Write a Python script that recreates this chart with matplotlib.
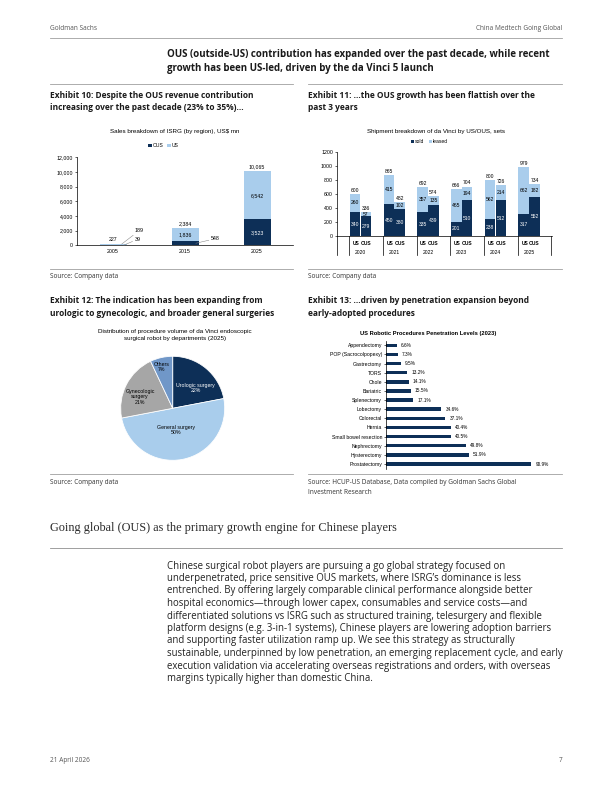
import matplotlib.pyplot as plt
from matplotlib.lines import Line2D
import numpy as np

W, H = 612, 792
NAVY = '#0d2f57'
LIGHT = '#a9cdec'
GREY = '#a6a6a6'
MID = '#7097c8'
CF = 'Liberation Sans'
PF = 'Open Sans'

# exhibit 10 data
years10 = ['2005', '2015', '2025']
ous10 = [39, 548, 3523]
us10 = [189, 1836, 6542]
total10 = [227, 2384, 10065]

# exhibit 11 data
years11 = ['2020', '2021', '2022', '2023', '2024', '2025']
us_sold = [340, 450, 335, 201, 238, 317]
us_leased = [260, 415, 357, 465, 562, 662]
us_total = [600, 865, 692, 666, 800, 979]
ous_sold = [279, 380, 439, 510, 512, 552]
ous_leased = [57, 102, 135, 194, 214, 182]
ous_total = [336, 482, 574, 704, 726, 734]

# exhibit 12 data
pie_names = ['Urologic surgery', 'General surgery', 'Gynecologic\nsurgery', 'Others']
pie_vals = [22, 50, 21, 7]

# exhibit 13 data
procs = ['Appendectomy', 'POP (Sacrocolpopexy)', 'Gastrectomy', 'TORS', 'Chole',
         'Bariatric', 'Splenectomy', 'Lobectomy', 'Colorectal', 'Hernia',
         'Small bowel resection', 'Nephrectomy', 'Hysterectomy', 'Prostatectomy']
pen = [6.6, 7.3, 9.5, 13.2, 14.1, 15.5, 17.1, 34.6, 37.1, 40.4, 40.5, 49.8, 51.9, 90.9]

body = [
    "Chinese surgical robot players are pursuing a go global strategy focused on",
    "underpenetrated, price sensitive OUS markets, where ISRG\u2019s dominance is less",
    "entrenched. By offering largely comparable clinical performance alongside better",
    "hospital economics\u2014through lower capex, consumables and service costs\u2014and",
    "differentiated solutions vs ISRG such as structured training, telesurgery and flexible",
    "platform designs (e.g. 3-in-1 systems), Chinese players are lowering adoption barriers",
    "and supporting faster utilization ramp up. We see this strategy as structurally",
    "sustainable, underpinned by low penetration, an emerging replacement cycle, and early",
    "execution validation via accelerating overseas registrations and orders, with overseas",
    "margins typically higher than domestic China.",
]

fig = plt.figure(figsize=(W / 72, H / 72), dpi=72)


def px_ax(l, t, r, b):
    return fig.add_axes([l / W, 1 - b / H, (r - l) / W, (b - t) / H])


def txt(x, y, s, **kw):
    kw.setdefault('va', 'center')
    kw.setdefault('family', PF)
    fig.text(x / W, 1 - y / H, s, **kw)


def hline(x1, x2, y, c='#9a9a9a', lw=1.0):
    fig.add_artist(Line2D([x1 / W, x2 / W], [1 - y / H] * 2, color=c, lw=lw,
                          transform=fig.transFigure))


TS = 8.4   # exhibit title size
SS = 6.5   # source size
VS = 5.2   # value label size

# page header
txt(50, 28, 'Goldman Sachs', fontsize=6.5, color='#555555')
txt(562, 29, 'China Medtech Going Global', fontsize=6.5, color='#555555', ha='right')
hline(50, 562, 38, lw=0.8)
txt(167, 54, 'OUS (outside-US) contribution has expanded over the past decade, while recent',
    fontsize=9.8, weight='bold', color='#1a1a1a')
txt(167, 69, 'growth has been US-led, driven by the da Vinci 5 launch',
    fontsize=9.8, weight='bold', color='#1a1a1a')
hline(50, 293, 84, lw=0.8)
hline(308, 562, 84, lw=0.8)

# exhibit titles
txt(50, 95, 'Exhibit 10: Despite the OUS revenue contribution', fontsize=TS, weight='bold', color='#1a1a1a')
txt(50, 107, 'increasing over the past decade (23% to 35%)...', fontsize=TS, weight='bold', color='#1a1a1a')
txt(308, 95, 'Exhibit 11: ...the OUS growth has been flattish over the', fontsize=TS, weight='bold', color='#1a1a1a')
txt(308, 107, 'past 3 years', fontsize=TS, weight='bold', color='#1a1a1a')
txt(50, 301, 'Exhibit 12: The indication has been expanding from', fontsize=TS, weight='bold', color='#1a1a1a')
txt(50, 313, 'urologic to gynecologic, and broader general surgeries', fontsize=TS, weight='bold', color='#1a1a1a')
txt(308, 301, 'Exhibit 13: ...driven by penetration expansion beyond', fontsize=TS, weight='bold', color='#1a1a1a')
txt(308, 313, 'early-adopted procedures', fontsize=TS, weight='bold', color='#1a1a1a')

# sources
hline(50, 293, 269, lw=0.8)
hline(308, 562, 269, lw=0.8)
txt(50, 277, 'Source: Company data', fontsize=SS, color='#333333')
txt(308, 277, 'Source: Company data', fontsize=SS, color='#333333')
hline(50, 293, 474, lw=0.8)
hline(308, 562, 474, lw=0.8)
txt(50, 483, 'Source: Company data', fontsize=SS, color='#333333')
txt(308, 483, 'Source: HCUP-US Database, Data compiled by Goldman Sachs Global', fontsize=SS, color='#333333')
txt(308, 492, 'Investment Research', fontsize=SS, color='#333333')

# ---------- exhibit 10 ----------
txt(175, 132, 'Sales breakdown of ISRG (by region), US$ mn', fontsize=6.3, ha='center', family=CF)
ax = px_ax(77, 157.3, 293, 245.3)
x = np.arange(len(years10))
ax.bar(x, ous10, 0.375, color=NAVY, label='OUS')
ax.bar(x, us10, 0.375, bottom=ous10, color=LIGHT, label='US')
ax.set_ylim(0, 12000)
ax.set_xlim(-0.5, 2.5)
ax.set_yticks(range(0, 12001, 2000))
ax.set_yticklabels([f'{v:,}' for v in range(0, 12001, 2000)], family=CF, fontsize=5.2)
ax.set_xticks(x)
ax.set_xticklabels(years10, family=CF, fontsize=5.2)
ax.tick_params(axis='y', length=2, width=0.6, pad=2)
ax.tick_params(axis='x', length=0, pad=4)
for s in ['top', 'right']:
    ax.spines[s].set_visible(False)
for s in ['left', 'bottom']:
    ax.spines[s].set_linewidth(0.7)
for i in range(len(years10)):
    ax.text(x[i], total10[i] + 250, f'{total10[i]:,}', ha='center', va='bottom', fontsize=VS, family=CF)
for i in [2]:
    ax.text(x[i], ous10[i] / 2, f'{ous10[i]:,}', ha='center', va='center', fontsize=VS, family=CF, color='white')
for i in [1, 2]:
    ax.text(x[i], ous10[i] + us10[i] / 2, f'{us10[i]:,}', ha='center', va='center', fontsize=VS, family=CF)
lead = dict(arrowstyle='-', color='#808080', lw=0.5, shrinkA=0, shrinkB=0)
ax.annotate(f'{us10[0]:,}', xy=(0.12, 160), xytext=(0.3, 1990), fontsize=VS, family=CF,
            va='center', arrowprops=lead)
ax.annotate(f'{ous10[0]:,}', xy=(0.15, 20), xytext=(0.3, 820), fontsize=VS, family=CF,
            va='center', arrowprops=lead)
ax.annotate(f'{ous10[1]:,}', xy=(1.15, 280), xytext=(1.36, 900), fontsize=VS, family=CF,
            va='center', arrowprops=lead)
ax.legend(loc='center', bbox_to_anchor=(0.4, 1.13), ncol=2, frameon=False,
          prop={'family': CF, 'size': 5}, handlelength=0.7, handleheight=0.7,
          handletextpad=0.2, columnspacing=0.8)

# ---------- exhibit 11 ----------
txt(436, 132, 'Shipment breakdown of da Vinci by US/OUS, sets', fontsize=6.3, ha='center', family=CF)
ax = px_ax(337, 151.7, 552, 236)
g = np.arange(len(years11))
bw = 0.31
xu, xo = g - 0.16, g + 0.16
ax.bar(xu, us_sold, bw, color=NAVY, label='sold')
ax.bar(xu, us_leased, bw, bottom=us_sold, color=LIGHT, label='leased')
ax.bar(xo, ous_sold, bw, color=NAVY)
ax.bar(xo, ous_leased, bw, bottom=ous_sold, color=LIGHT)
ax.set_ylim(0, 1200)
ax.set_xlim(-0.7, 5.68)
ax.set_yticks(range(0, 1201, 200))
ax.set_yticklabels([str(v) for v in range(0, 1201, 200)], family=CF, fontsize=5.2)
ax.set_xticks([])
ax.tick_params(axis='y', length=2, width=0.6, pad=2)
for s in ['top', 'right']:
    ax.spines[s].set_visible(False)
for s in ['left', 'bottom']:
    ax.spines[s].set_linewidth(0.7)
for xs, sold, leased, tot in [(xu, us_sold, us_leased, us_total), (xo, ous_sold, ous_leased, ous_total)]:
    for i in range(len(g)):
        ax.text(xs[i], sold[i] / 2, str(sold[i]), ha='center', va='center', fontsize=5, family=CF, color='white')
        ax.text(xs[i], sold[i] + leased[i] / 2, str(leased[i]), ha='center', va='center', fontsize=5, family=CF)
        ax.text(xs[i], tot[i] + 15, str(tot[i]), ha='center', va='bottom', fontsize=5, family=CF)
for sx in list(g - 0.34) + [5.66, -0.7]:
    ax.plot([sx, sx], [0, -270], color='black', lw=0.7, clip_on=False)
for i in range(len(g)):
    ax.text(xu[i] + 0.03, -100, 'US', ha='center', va='center', fontsize=5, family=CF, weight='bold')
    ax.text(xo[i] + 0.0, -100, 'OUS', ha='center', va='center', fontsize=5, family=CF, weight='bold')
    ax.text(g[i], -240, years11[i], ha='center', va='center', fontsize=5, family=CF)
ax.legend(loc='center', bbox_to_anchor=(0.43, 1.12), ncol=2, frameon=False,
          prop={'family': CF, 'size': 5}, handlelength=0.7, handleheight=0.7,
          handletextpad=0.2, columnspacing=0.8)

# ---------- exhibit 12 ----------
txt(175, 331, 'Distribution of procedure volume of da Vinci endoscopic', fontsize=6.3, ha='center', family=CF)
txt(175, 338.5, 'surgical robot by departments (2025)', fontsize=6.3, ha='center', family=CF)
ax = px_ax(120.7, 356.3, 224.7, 460.3)
ax.pie(pie_vals, colors=[NAVY, LIGHT, GREY, MID], startangle=90, counterclock=False,
       wedgeprops=dict(edgecolor='white', linewidth=0.8))
ax.set_xlim(-1, 1)
ax.set_ylim(-1, 1)
pie_pos = [(0.44, 0.39), (0.06, -0.42), (-0.63, 0.22), (-0.21, 0.79)]
pie_col = ['white', 'black', 'black', 'black']
for (px, py), nm, v, c in zip(pie_pos, pie_names, pie_vals, pie_col):
    ax.text(px, py, f'{nm}\n{v}%', ha='center', va='center', fontsize=5.2, family=CF,
            color=c, linespacing=1.1)

# ---------- exhibit 13 ----------
txt(428, 334, 'US Robotic Procedures Penetration Levels (2023)', fontsize=5.8, ha='center', family=CF, weight='bold')
ax = px_ax(386, 340.7, 546, 468.6)
yy = np.arange(len(procs))
ax.barh(yy, pen, 0.38, color=NAVY)
ax.set_ylim(len(procs) - 0.5, -0.5)
ax.set_xlim(0, 100)
ax.set_yticks(yy)
ax.set_yticklabels(procs, family=CF, fontsize=5.1)
ax.set_xticks([])
ax.tick_params(axis='y', length=2, width=0.6, pad=2)
for s in ['top', 'right', 'bottom']:
    ax.spines[s].set_visible(False)
ax.spines['left'].set_linewidth(0.7)
for i, v in enumerate(pen):
    ax.text(v + 2.5, i, f'{v:.1f}%', va='center', fontsize=4.8, family=CF)

# ---------- section ----------
txt(50, 528, 'Going global (OUS) as the primary growth engine for Chinese players',
    fontsize=12.2, family='Liberation Serif', color='#2a2a2a')
hline(50, 562, 548, c='#8a8a8a', lw=0.8)
for i, line in enumerate(body):
    txt(167, 566 + 12.5 * i, line, fontsize=9.6, color='#222222')

# footer
txt(50, 761, '21 April 2026', fontsize=6.5, color='#555555')
txt(562, 761, '7', fontsize=6.5, color='#555555', ha='right')

fig.savefig('out.png', dpi=72)
